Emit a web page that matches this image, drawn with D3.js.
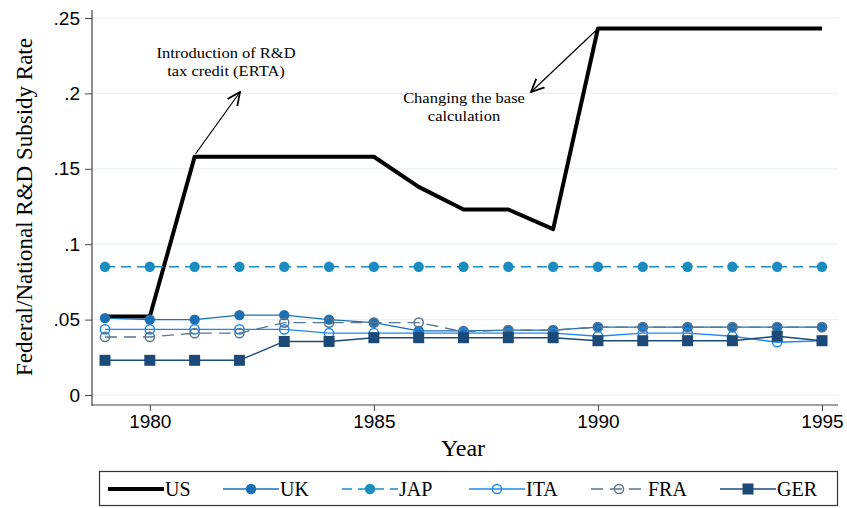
<!DOCTYPE html>
<html>
<head>
<meta charset="utf-8">
<script src="https://cdn.jsdelivr.net/npm/d3@7"></script>
<style>
  body { margin: 0; background: #fff; }
  svg { display: block; }
  .serif { font-family: "Liberation Serif", "Times New Roman", serif; }
  .tick text { font-family: "Liberation Sans", Arial, sans-serif; font-size: 19px; fill: #000; }
</style>
</head>
<body>
<svg width="847" height="508"></svg>
<script>
const svg = d3.select('svg');

// data
const years = d3.range(1979, 1996);
const us  = [.052, .052, .158, .158, .158, .158, .158, .138, .123, .123, .110, .243, .243, .243, .243, .243, .243];
const uk  = [.051, .050, .050, .053, .053, .050, .048, .0425, .0425, .043, .043, .045, .045, .045, .045, .045, .045];
const jap = [.085, .085, .085, .085, .085, .085, .085, .085, .085, .085, .085, .085, .085, .085, .085, .085, .085];
const ita = [.0435, .0435, .0435, .0435, .0435, .041, .041, .041, .041, .041, .041, .039, .041, .041, .039, .035, .036];
const fra = [.0385, .0385, .041, .041, .048, .048, .048, .048, .042, .043, .043, .045, .045, .045, .045, .045, .045];
const ger = [.023, .023, .023, .023, .0355, .0355, .038, .038, .038, .038, .038, .036, .036, .036, .036, .039, .036];
const yTicks = [0, .05, .1, .15, .2, .25];
const xTicks = [1980, 1985, 1990, 1995];

const series = [
  { name: 'US',  values: us,  color: '#000000', width: 4,   dash: null,   marker: null },
  { name: 'UK',  values: uk,  color: '#1a6fb5', width: 1.4, dash: null,   marker: 'dot' },
  { name: 'JAP', values: jap, color: '#1a8cc0', width: 1.4, dash: '10,6', marker: 'dot' },
  { name: 'ITA', values: ita, color: '#1e88f0', width: 1.4, dash: null,   marker: 'ring' },
  { name: 'FRA', values: fra, color: '#5b7690', width: 1.4, dash: '12,7', marker: 'ring' },
  { name: 'GER', values: ger, color: '#1b4a78', width: 1.4, dash: null,   marker: 'square' }
];

const x = d3.scaleLinear().domain([1979, 1995]).range([105, 822]);
const y = d3.scaleLinear().domain([0, .25]).range([395, 18]);

// gridlines
svg.append('g').selectAll('line').data(yTicks).join('line')
  .attr('x1', 92).attr('x2', 838)
  .attr('y1', d => y(d)).attr('y2', d => y(d))
  .attr('stroke', '#e8f0f2').attr('stroke-width', 1.2);

// axes
const yAxis = d3.axisLeft(y).tickValues(yTicks).tickSize(7).tickPadding(5)
  .tickFormat(d => d === 0 ? '0' : d3.format('.2~f')(d).replace(/^0/, ''));
svg.append('g').attr('transform', 'translate(92,0)').call(yAxis)
  .call(g => g.select('.domain').remove())
  .call(g => g.selectAll('.tick line').attr('stroke', '#444'));
svg.append('line').attr('x1', 92).attr('x2', 92).attr('y1', 10).attr('y2', 406)
  .attr('stroke', '#444').attr('stroke-width', 1.2);

const xAxis = d3.axisBottom(x).tickValues(xTicks).tickSize(6).tickPadding(4).tickFormat(d3.format('d'));
svg.append('g').attr('transform', 'translate(0,405)').call(xAxis)
  .call(g => g.select('.domain').remove())
  .call(g => g.selectAll('.tick line').attr('stroke', '#444'));
svg.append('line').attr('x1', 92).attr('x2', 838).attr('y1', 405).attr('y2', 405)
  .attr('stroke', '#444').attr('stroke-width', 1.2);

// axis titles
svg.append('text').attr('class', 'serif')
  .attr('x', 463).attr('y', 456).attr('text-anchor', 'middle')
  .style('font-size', '24px').text('Year');
svg.append('text').attr('class', 'serif')
  .attr('transform', 'translate(32,207) rotate(-90)').attr('text-anchor', 'middle')
  .style('font-size', '23px').text('Federal/National R&D Subsidy Rate');

// draw a marker
const drawMarker = (g, s, cx, cy) => {
  if (s.marker === 'dot') {
    g.append('circle').attr('cx', cx).attr('cy', cy).attr('r', 5.2).attr('fill', s.color);
  } else if (s.marker === 'ring') {
    g.append('circle').attr('cx', cx).attr('cy', cy).attr('r', 4.6)
      .attr('fill', 'none').attr('stroke', s.color).attr('stroke-width', 1.5);
  } else if (s.marker === 'square') {
    g.append('rect').attr('x', cx - 5.5).attr('y', cy - 5.5).attr('width', 11).attr('height', 11)
      .attr('fill', s.color);
  }
};

// series
const line = d3.line().x((d, i) => x(years[i])).y(d => y(d));
series.forEach(s => {
  const g = svg.append('g');
  g.append('path').attr('d', line(s.values))
    .attr('fill', 'none').attr('stroke', s.color).attr('stroke-width', s.width)
    .attr('stroke-dasharray', s.dash)
    .attr('stroke-linejoin', 'round');
  s.values.forEach((v, i) => drawMarker(g, s, x(years[i]), y(v)));
});

// annotations
const defs = svg.append('defs');
defs.append('marker').attr('id', 'arr').attr('viewBox', '0 0 14 14')
  .attr('refX', 13).attr('refY', 7).attr('markerWidth', 14).attr('markerHeight', 14)
  .attr('markerUnits', 'userSpaceOnUse').attr('orient', 'auto')
  .append('path').attr('d', 'M0,1 L13,7 L0,13').attr('fill', 'none')
  .attr('stroke', '#000').attr('stroke-width', 1.8);

svg.append('line').attr('x1', x(1981) + 1).attr('y1', y(.158) - 3)
  .attr('x2', 240).attr('y2', 92)
  .attr('stroke', '#000').attr('stroke-width', 1.2).attr('marker-end', 'url(#arr)');
svg.append('line').attr('x1', x(1990) - 2).attr('y1', y(.243) + 2)
  .attr('x2', 531).attr('y2', 92)
  .attr('stroke', '#000').attr('stroke-width', 1.2).attr('marker-end', 'url(#arr)');

// two-line notes, slightly widened like the reference
const note = (lines, cx, cy) => {
  const g = svg.append('g').attr('transform', `translate(${cx},${cy}) scale(1.1,1)`);
  lines.forEach((l, i) => g.append('text').attr('class', 'serif')
    .attr('text-anchor', 'middle').attr('y', i * 18)
    .style('font-size', '15px').text(l));
};
note(['Introduction of R&D', 'tax credit (ERTA)'], 226, 58);
note(['Changing the base', 'calculation'], 464, 103);

// legend
const lg = svg.append('g');
lg.append('rect').attr('x', 99.5).attr('y', 471.5).attr('width', 738).attr('height', 34)
  .attr('fill', '#fff').attr('stroke', '#333').attr('stroke-width', 1.2);
const legendX = [108, 223, 342, 469, 591, 720];
series.forEach((s, i) => {
  const x0 = legendX[i], x1 = x0 + 56, ly = 489;
  lg.append('line').attr('x1', x0).attr('x2', x1).attr('y1', ly).attr('y2', ly)
    .attr('stroke', s.color).attr('stroke-width', s.width).attr('stroke-dasharray', s.dash);
  drawMarker(lg, s, (x0 + x1) / 2, ly);
  lg.append('text').attr('class', 'serif').attr('x', x1 + 1).attr('y', ly + 7)
    .style('font-size', '20px').text(s.name);
});
</script>
</body>
</html>
